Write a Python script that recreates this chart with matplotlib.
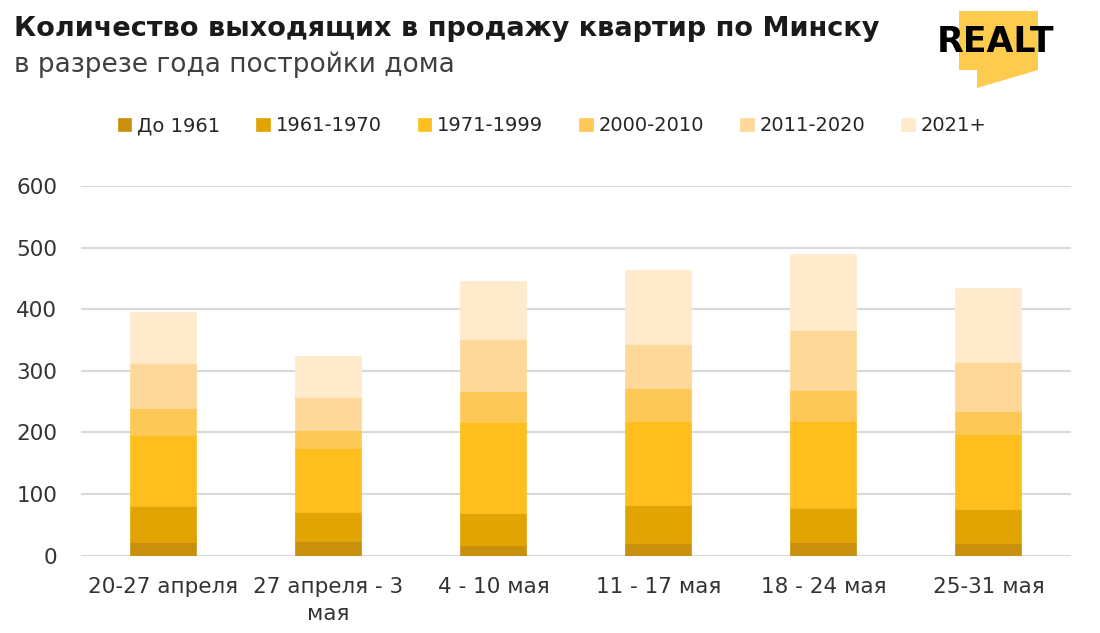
import numpy as np
import matplotlib
matplotlib.use("Agg")
from matplotlib import pyplot as plt
from matplotlib.patches import Polygon

plt.rcParams['font.family'] = ['DejaVu Sans']

# data
weeks = ["20-27 апреля", "27 апреля - 3\nмая", "4 - 10 мая",
         "11 - 17 мая", "18 - 24 мая", "25-31 мая"]
series_names = ["До 1961", "1961-1970", "1971-1999",
                "2000-2010", "2011-2020", "2021+"]
before_1961 = [23, 24, 17, 21, 22, 21]
y1961_1970 = [57, 47, 52, 61, 56, 55]
y1971_1999 = [116, 104, 148, 136, 140, 121]
y2000_2010 = [43, 29, 50, 54, 51, 38]
y2011_2020 = [74, 53, 84, 72, 98, 79]
y2021_plus = [83, 67, 95, 120, 122, 120]

colors = ["#C8900C", "#E2A402", "#FDBE1E", "#FEC857", "#FED898", "#FFEACB"]

series = [before_1961, y1961_1970, y1971_1999, y2000_2010, y2011_2020, y2021_plus]

fig = plt.figure(figsize=(11, 6.33), dpi=100)
ax = fig.add_axes([0.0736, 0.1221, 0.9, 0.5841])

x = np.arange(len(weeks))
bottom = np.zeros(len(weeks))
handles = []
for name, vals, col in zip(series_names, series, colors):
    b = ax.bar(x, vals, width=0.4, bottom=bottom, color=col, label=name,
               edgecolor=col, linewidth=0.5, zorder=3)
    handles.append(b)
    bottom += np.array(vals)

ax.set_xlim(-0.5, len(weeks) - 0.5)
ax.set_ylim(0, 600)
ax.set_yticks(range(0, 601, 100))
ax.grid(axis='y', color='#d9d9d9', linewidth=1.5, zorder=0)
for s in ax.spines.values():
    s.set_visible(False)
ax.tick_params(axis='both', length=0, labelsize=15.5, colors='#333333')
ax.tick_params(axis='y', pad=17)
ax.tick_params(axis='x', pad=15)
ax.set_xticks(x)
ax.set_xticklabels(weeks, linespacing=1.45)

fig.legend(handles=handles, labels=series_names, loc='center',
           bbox_to_anchor=(0.502, 0.801), ncol=6, frameon=False,
           fontsize=14, handlelength=0.7, handleheight=0.7,
           handletextpad=0.3, columnspacing=1.85, labelcolor='#262626')

fig.text(0.013, 0.954, "Количество выходящих в продажу квартир по Минску",
         fontsize=19.5, fontweight='bold', color='#1a1a1a', va='center')
fig.text(0.013, 0.897, "в разрезе года постройки дома",
         fontsize=19, color='#404040', va='center')

# logo
H = 633.0
W = 1100.0
pts = [(959, 11), (1038, 11), (1038, 70), (977, 88), (977, 70), (959, 70)]
logo = Polygon([(px / W, 1 - py / H) for px, py in pts], closed=True,
               transform=fig.transFigure, facecolor='#FDCB4E', edgecolor='none')
fig.patches.append(logo)
fig.text(995 / W, 1 - 42 / H, "REALT", fontsize=25, fontweight='heavy',
         color='black', ha='center', va='center')

fig.savefig("out.png", dpi=100)
